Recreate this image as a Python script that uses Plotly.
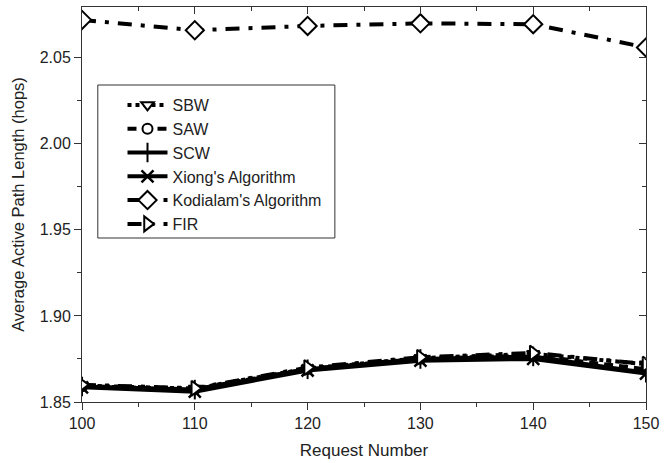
import plotly.graph_objects as go

x = [100, 110, 120, 130, 140, 150]
sbw = [1.8595, 1.8578, 1.8695, 1.8755, 1.8780, 1.8720]
saw = [1.8592, 1.8574, 1.8692, 1.8752, 1.8770, 1.8690]
scw = [1.8590, 1.8572, 1.8690, 1.8750, 1.8765, 1.8670]
xiong = [1.8585, 1.8560, 1.8683, 1.8740, 1.8750, 1.8665]
kodialam = [2.0720, 2.0660, 2.0685, 2.0700, 2.0695, 2.0560]
fir = [1.8600, 1.8580, 1.8700, 1.8760, 1.8785, 1.8720]

x_ticks = [100, 110, 120, 130, 140, 150]
x_minor = [105, 115, 125, 135, 145]
y_ticks = [1.85, 1.90, 1.95, 2.00, 2.05]
y_minor = [1.875, 1.925, 1.975, 2.025]
x_range = [100, 150]
y_range = [1.85, 2.0795]

fig = go.Figure()

def add(name, y, dash, symbol, width=4, size=12, mline=2):
    fig.add_trace(go.Scatter(
        x=x, y=y, name=name, mode="lines+markers",
        line=dict(color="black", width=width, dash=dash),
        marker=dict(symbol=symbol, size=size, color="white",
                    line=dict(color="black", width=mline)),
    ))

add("SBW", sbw, "dot", "triangle-down", 4, 11)
add("SAW", saw, "9px,6px", "circle", 4, 10)
fig.add_trace(go.Scatter(x=x, y=scw, name="SCW", mode="lines+markers",
                         line=dict(color="black", width=4),
                         marker=dict(symbol="line-ns", size=14, line=dict(color="black", width=2))))
fig.add_trace(go.Scatter(x=x, y=xiong, name="Xiong's Algorithm", mode="lines+markers",
                         line=dict(color="black", width=4),
                         marker=dict(symbol="x-thin", size=12, line=dict(color="black", width=2.5))))
add("Kodialam's Algorithm", kodialam, "14px,9px,4px,9px", "diamond", 4, 14)
add("FIR", fir, "14px,9px,4px,9px", "triangle-right", 4, 13)

font = "Liberation Sans, Arial, sans-serif"
axcol = "#333"
W, H = 571, 395  # plot area size in px (for paper-fraction placement)
fig.update_layout(
    width=666, height=463,
    margin=dict(l=82, r=13, t=7, b=61),
    plot_bgcolor="white", paper_bgcolor="white",
    font=dict(family=font, size=16, color="#222"),
    showlegend=True,
    legend=dict(x=(123 - 82) / W, y=(402 - 88) / H, xanchor="left", yanchor="top",
                borderwidth=0, bgcolor="rgba(0,0,0,0)",
                font=dict(size=16), itemwidth=40, tracegroupgap=0),
    xaxis=dict(range=x_range, tickvals=x_ticks, ticks="outside", ticklen=7,
               tickwidth=1, linecolor=axcol, linewidth=1, showgrid=False,
               zeroline=False, showline=True, ticklabeloverflow="allow",
               minor=dict(tickvals=x_minor, ticks="outside", ticklen=4, tickcolor=axcol),
               title=dict(text="Request Number", standoff=12, font=dict(size=17)),
               tickcolor=axcol),
    yaxis=dict(range=y_range, tickvals=y_ticks,
               tickformat=".2f", ticks="outside", ticklen=7, tickwidth=1,
               linecolor=axcol, linewidth=1, showgrid=False, zeroline=False,
               showline=True, tickcolor=axcol,
               minor=dict(tickvals=y_minor, ticks="outside", ticklen=4, tickcolor=axcol),
               title=dict(text="Average Active Path Length (hops)", standoff=10, font=dict(size=16.5))),
    xaxis2=dict(range=x_range, overlaying="x", side="top", tickvals=x_ticks,
                ticks="inside", ticklen=7, showticklabels=False, showline=True,
                linecolor=axcol, showgrid=False, zeroline=False, tickcolor=axcol,
                minor=dict(tickvals=x_minor, ticks="inside", ticklen=4, tickcolor=axcol)),
    yaxis2=dict(range=y_range, overlaying="y", side="right",
                tickvals=y_ticks, ticks="inside", ticklen=7,
                showticklabels=False, showline=True, linecolor=axcol,
                showgrid=False, zeroline=False, tickcolor=axcol,
                minor=dict(tickvals=y_minor, ticks="inside", ticklen=4, tickcolor=axcol)),
    shapes=[dict(type="rect", xref="paper", yref="paper",
                 x0=(98 - 82) / W, x1=(338 - 82) / W,
                 y0=(402 - 238) / H, y1=(402 - 85) / H,
                 line=dict(color=axcol, width=1), fillcolor="rgba(0,0,0,0)",
                 layer="below")],
)
fig.add_trace(go.Scatter(x=[100], y=[1.85], xaxis="x2", yaxis="y2", mode="markers",
                         marker=dict(opacity=0), showlegend=False, hoverinfo="skip"))

fig.write_html("out.html")
